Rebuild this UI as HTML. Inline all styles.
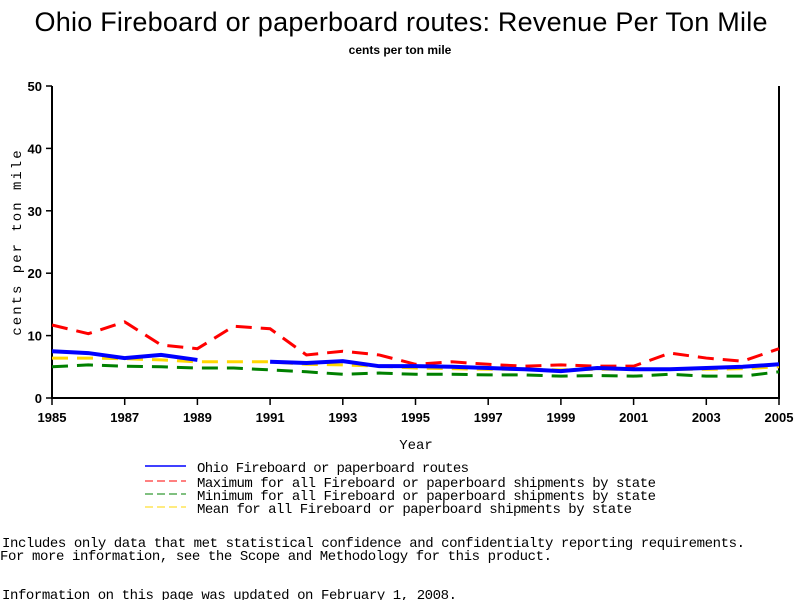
<!DOCTYPE html>
<html><head><meta charset="utf-8"><style>
body{margin:0;background:#fff;width:800px;height:600px;overflow:hidden}
svg{display:block}
.m{font-family:"Liberation Mono",monospace;font-size:14px}
.t{font-family:"Liberation Sans",sans-serif}
</style></head><body>
<svg id="chart" width="800" height="600">
<text class="t" x="401" y="31" text-anchor="middle" font-size="27" textLength="733">Ohio Fireboard or paperboard routes: Revenue Per Ton Mile</text>
<text class="t" x="400" y="54" text-anchor="middle" font-size="12" font-weight="bold">cents per ton mile</text>
<g id="axes"></g>
<g id="series"></g>
<text class="m" x="416" y="449" text-anchor="middle" font-size="13">Year</text>
<text class="m" transform="translate(21,242) rotate(-90)" text-anchor="middle" font-size="11" letter-spacing="2">cents per ton mile</text>
<g>
<line x1="145" y1="466" x2="186" y2="466" stroke="#0000ff" stroke-width="1.5"/>
<text class="m" x="197" y="472" textLength="272">Ohio Fireboard or paperboard routes</text>
<line x1="145" y1="481" x2="186" y2="481" stroke="#ff0000" stroke-dasharray="8,4"/>
<text class="m" x="197" y="487" textLength="459">Maximum for all Fireboard or paperboard shipments by state</text>
<line x1="145" y1="494" x2="186" y2="494" stroke="#008000" stroke-dasharray="8,4"/>
<text class="m" x="197" y="500" textLength="459">Minimum for all Fireboard or paperboard shipments by state</text>
<line x1="145" y1="507" x2="186" y2="507" stroke="#ffd700" stroke-dasharray="8,4"/>
<text class="m" x="197" y="513" textLength="435">Mean for all Fireboard or paperboard shipments by state</text>
</g>
<text class="m" x="2" y="547" textLength="743">Includes only data that met statistical confidence and confidentialty reporting requirements.</text>
<text class="m" x="0" y="560" textLength="552">For more information, see the Scope and Methodology for this product.</text>
<text class="m" x="2" y="599" textLength="455">Information on this page was updated on February 1, 2008.</text>
</svg>
<script>
const years=[1985,1986,1987,1988,1989,1990,1991,1992,1993,1994,1995,1996,1997,1998,1999,2000,2001,2002,2003,2004,2005];
const ohio=[7.5,7.2,6.4,6.9,6.1,null,5.8,5.6,5.9,5.1,5.1,5.0,4.8,4.6,4.3,4.8,4.6,4.6,4.8,5.0,5.4];
const maxV=[11.7,10.3,12.2,8.5,7.9,11.5,11.1,6.9,7.5,6.9,5.4,5.8,5.4,5.1,5.3,5.1,5.1,7.2,6.4,5.9,7.9];
const minV=[5.0,5.3,5.1,5.0,4.8,4.8,4.5,4.2,3.8,4.0,3.8,3.8,3.7,3.7,3.5,3.6,3.5,3.8,3.5,3.5,4.2];
const meanV=[6.4,6.4,6.3,6.1,5.8,5.8,5.8,5.4,5.3,5.1,4.8,4.7,4.6,4.6,4.5,4.6,4.6,4.6,4.6,4.7,5.0];
const yTicks=[0,10,20,30,40,50];
const xTicks=[1985,1987,1989,1991,1993,1995,1997,1999,2001,2003,2005];
const NS="http://www.w3.org/2000/svg";
const X=v=>52+(v-1985)*(779-52)/20;
const Y=v=>398-v*(398-86)/50;
function mk(tag,attrs,parent){const e=document.createElementNS(NS,tag);for(const k in attrs)e.setAttribute(k,attrs[k]);parent.appendChild(e);return e;}
const ax=document.getElementById('axes');
const frame=mk('path',{d:`M${X(1985)},${Y(50)}V${Y(0)}H${X(2005)}V${Y(50)}`,fill:'none',stroke:'#000','stroke-width':2},ax);


yTicks.forEach(t=>{
 const l=mk('line',{x1:X(1985)-6,x2:X(1985),y1:Y(t),y2:Y(t),stroke:'#000','stroke-width':1.5},ax);
 
 
 const tx=mk('text',{x:X(1985)-10,y:Y(t)+5,'text-anchor':'end','font-family':'Liberation Sans,sans-serif','font-size':13,'font-weight':'bold'},ax);
 tx.textContent=t;
 
 
});
xTicks.forEach(t=>{
 const l=mk('line',{x1:X(t),x2:X(t),y1:Y(0),y2:Y(0)+7,stroke:'#000','stroke-width':1.5},ax);
 
 
 const tx=mk('text',{x:X(t),y:Y(0)+24,'text-anchor':'middle','font-family':'Liberation Sans,sans-serif','font-size':13,'font-weight':'bold'},ax);
 tx.textContent=t;
 
 
});
const sg=document.getElementById('series');
function path(vals){let d='',pen=false;vals.forEach((v,i)=>{if(v==null){pen=false;return;}d+=(pen?'L':'M')+X(years[i])+','+Y(v);pen=true;});return d;}
const s1=mk('path',{d:path(meanV),fill:'none',stroke:'#ffd700','stroke-width':3,'stroke-dasharray':'16,9'},sg);


const s2=mk('path',{d:path(minV),fill:'none',stroke:'#008000','stroke-width':3,'stroke-dasharray':'16,9'},sg);


const s3=mk('path',{d:path(maxV),fill:'none',stroke:'#ff0000','stroke-width':3,'stroke-dasharray':'16,9'},sg);


const s4=mk('path',{d:path(ohio),fill:'none',stroke:'#0000ff','stroke-width':4},sg);


</script>
</body></html>
